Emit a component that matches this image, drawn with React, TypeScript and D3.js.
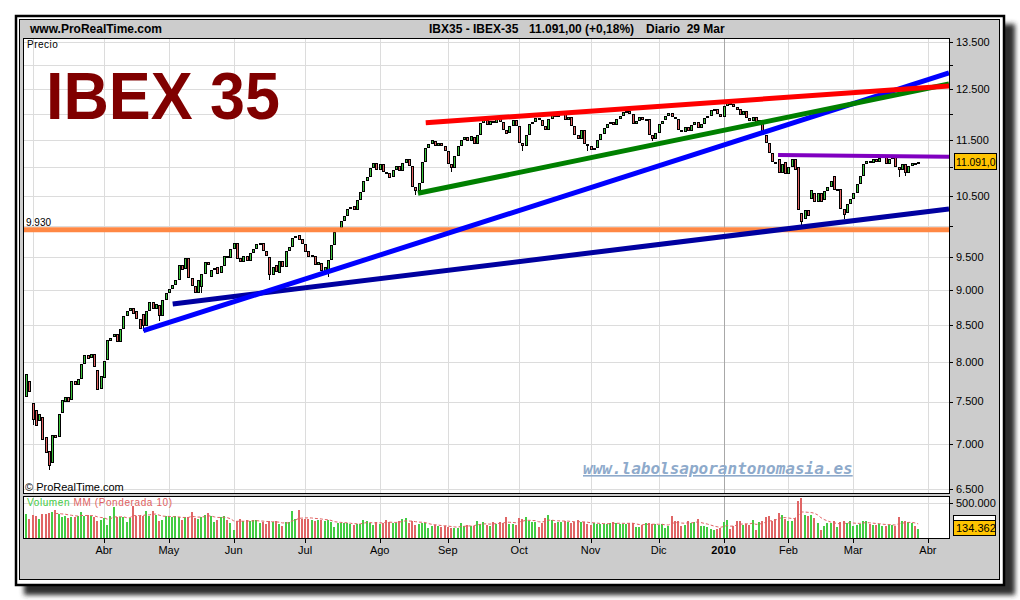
import React from 'react';
import * as d3 from 'd3';

// Trading-day index of the first candle (Feb 26 2009); index 0 = Mar 2 2009
const startIndex = -2;

const opens = [
  7560, 7760,
  7480, 7400, 7260, 7310, 7080, 6920, 6780, 7100, 7080, 7360, 7500, 7560, 7520, 7760, 7700, 7780, 7980, 8090, 8050, 8100, 7900, 7660,
  7800, 8030, 8280, 8330, 8380, 8260, 8450, 8620, 8700, 8740, 8690, 8580, 8650, 8480, 8700, 8830, 8720, 8780, 8620, 8860,
  8960, 9010, 9080, 9150, 9380, 9320, 9480, 9180, 9060, 8960, 9050, 9240, 9420, 9200, 9300, 9350, 9250, 9360, 9520, 9480,
  9620, 9720, 9480, 9420, 9520, 9440, 9560, 9620, 9700, 9720, 9600, 9500, 9230, 9380, 9260, 9430, 9340, 9600, 9660, 9800, 9850, 9780,
  9700, 9600, 9500, 9520, 9380, 9400, 9280, 9250, 9450, 9680, 9900, 9960, 10080, 10150, 10280, 10320, 10250, 10420, 10560, 10750, 10820, 10980, 11080,
  10950, 11050, 10920, 10900, 10820, 10950, 11020, 10930, 11080, 11150, 11020, 10650, 10580, 10720, 11100, 11350, 11420, 11480, 11380, 11450, 11380,
  11300, 11050, 10980, 11200, 11380, 11500, 11560, 11480, 11560, 11430, 11600, 11820, 11880, 11780, 11860, 11820, 11920, 11850, 11700, 11640, 11760, 11880,
  11760, 11450, 11380, 11600, 11800, 11850, 11920, 11880, 11760, 11700, 11900, 11980, 11950, 12020, 12050, 11880, 11950, 11760, 11600, 11520, 11700, 11420,
  11380, 11320, 11350, 11500, 11620, 11720, 11800, 11850, 11780, 11900, 11960, 12030, 12060, 12010, 11800, 11870, 11940, 11880, 11900, 11600, 11520,
  11640, 11800, 11880, 11960, 12020, 11940, 11900, 11700, 11650, 11740, 11680, 11780, 11850, 11720, 11800, 11920, 11970, 12080, 12100, 12000,
  11950, 12150, 12220, 12200, 12140, 12100, 11980, 12050, 11920, 11860, 11950, 11800, 11880, 11600, 11450, 11250, 11100, 11150, 10900, 11100,
  10880, 11000, 11150, 11000, 10200, 10100, 10250, 10450, 10550, 10400, 10550, 10420, 10580, 10650, 10850, 10600, 10620, 10280, 10200, 10350,
  10450, 10550, 10700, 10850, 11050, 11120, 11080, 11150, 11100, 11160, 11200, 11050, 11150, 11200, 11000, 10950, 11050, 10900, 11020, 11080, 11070,
];

const closes = [
  7850, 7620,
  7280, 7200, 7350, 7040, 6900, 6750, 7100, 7060, 7350, 7520, 7560, 7500, 7760, 7700, 7780, 7980, 8090, 8040, 8110, 7940, 7640, 7815,
  8010, 8300, 8320, 8380, 8260, 8450, 8620, 8700, 8740, 8650, 8580, 8450, 8480, 8700, 8830, 8720, 8800, 8620, 8860, 8960,
  9010, 9080, 9150, 9380, 9300, 9480, 9180, 9060, 8960, 9150, 9240, 9420, 9370, 9300, 9330, 9240, 9360, 9520, 9480, 9620,
  9720, 9460, 9420, 9520, 9440, 9560, 9620, 9700, 9720, 9600, 9520, 9230, 9350, 9270, 9430, 9340, 9600, 9660, 9800, 9830, 9760, 9700,
  9580, 9500, 9530, 9380, 9420, 9280, 9350, 9450, 9680, 9900, 9960, 10080, 10150, 10280, 10300, 10250, 10420, 10560, 10750, 10820, 10980, 11080, 10950,
  11050, 10920, 10880, 10800, 10950, 11020, 10930, 11080, 11150, 11020, 10650, 10580, 10720, 11100, 11350, 11420, 11500, 11380, 11450, 11380, 11300,
  11050, 10980, 11200, 11380, 11500, 11560, 11480, 11570, 11430, 11600, 11820, 11900, 11780, 11860, 11820, 11920, 11850, 11700, 11620, 11760, 11880, 11760,
  11450, 11380, 11600, 11800, 11850, 11920, 11880, 11760, 11700, 11900, 12000, 11950, 12020, 12050, 11880, 11950, 11760, 11600, 11520, 11700, 11420, 11380,
  11320, 11350, 11500, 11620, 11720, 11800, 11850, 11780, 11900, 11960, 12030, 12050, 12010, 11800, 11870, 11940, 11880, 11900, 11600, 11520, 11640,
  11800, 11860, 11960, 12020, 11940, 11900, 11700, 11650, 11740, 11680, 11780, 11850, 11720, 11800, 11920, 11970, 12080, 12100, 12000, 11940,
  12150, 12220, 12170, 12140, 12080, 11980, 12050, 11920, 11860, 11950, 11800, 11880, 11600, 11450, 11250, 11100, 11050, 10900, 11050, 10880,
  11000, 11150, 10950, 10250, 10050, 10250, 10150, 10600, 10400, 10550, 10400, 10580, 10650, 10750, 10600, 10620, 10280, 10180, 10350, 10450,
  10550, 10700, 10850, 11050, 11120, 11080, 11150, 11100, 11160, 11200, 11050, 11150, 11180, 11000, 10950, 11050, 10900, 11020, 11080, 11070, 11091,
];

// notable lower shadows: [trading-day index, low]
const lowWicks: [number, number][] = [
  [0, 7215], [5, 6705], [34, 8410], [39, 8550], [52, 8950], [73, 9150], [91, 9190],
  [118, 10520], [129, 10920], [151, 11300], [171, 11300], [191, 11480], [237, 10000],
  [250, 10100], [267, 10820], [269, 10850],
];

// daily volume, thousands of shares
const volumes = [
  348, 276, 324, 319, 276, 348, 348, 357, 367, 395, 348, 300, 319, 286, 300, 295, 310, 376, 319, 333,
  310, 295, 238, 252, 286, 190, 319, 438, 300, 300, 295, 224, 281, 452, 310, 319, 319, 381, 310, 381,
  333, 248, 262, 310, 310, 300, 310, 300, 262, 300, 295, 367, 286, 271, 300, 333, 357, 310, 233, 262,
  300, 319, 262, 214, 119, 238, 271, 248, 262, 248, 262, 262, 214, 224, 205, 238, 224, 238, 205, 176,
  224, 224, 381, 271, 395, 276, 276, 271, 262, 243, 262, 262, 243, 262, 224, 157, 214, 214, 214, 214,
  195, 190, 200, 200, 262, 248, 214, 190, 229, 205, 214, 262, 229, 214, 214, 248, 271, 286, 214, 238,
  190, 205, 214, 214, 143, 167, 181, 176, 157, 176, 157, 143, 143, 143, 214, 176, 190, 176, 176, 248,
  205, 224, 190, 176, 224, 205, 229, 214, 300, 205, 205, 190,
  286, 271, 300, 248, 233, 233, 157, 214, 286, 333, 262, 214, 229, 229, 238, 233, 214, 224, 252, 229,
  224, 205, 190, 214, 195, 200, 200, 200, 214, 233, 214, 205, 205, 205, 214, 214, 157, 157, 190, 214,
  214, 200, 200, 190, 200, 143, 176, 319, 248, 238, 167, 190, 238, 214, 229, 276, 176, 167, 157, 129,
  119, 129, 143, 224, 262, 129, 167, 238, 248, 190, 205, 181, 262, 110, 224, 248, 300, 319, 248, 271,
  357, 333, 271, 238, 238, 286, 533, 571, 333, 319, 333, 286, 214, 119, 176, 214, 214, 238, 157, 233,
  238, 214, 248, 176, 190, 205, 248, 238, 205, 190, 190, 195, 167, 176, 190, 190, 176, 300, 238, 238,
  229, 214, 167, 134.362,
];

const monthTicks = [
  { label: 'Abr', i: 22 }, { label: 'May', i: 42 }, { label: 'Jun', i: 62 }, { label: 'Jul', i: 84 },
  { label: 'Ago', i: 107 }, { label: 'Sep', i: 128 }, { label: 'Oct', i: 150 }, { label: 'Nov', i: 172 },
  { label: 'Dic', i: 193 }, { label: '2010', i: 213 }, { label: 'Feb', i: 233 }, { label: 'Mar', i: 253 },
  { label: 'Abr', i: 276 },
];
const firstMonthGrid = 0; // Mar 2009 (no label)

const priceGrid = [6500, 7000, 7500, 8000, 8500, 9000, 9500, 10000, 10500, 11000, 11500, 12000, 12500, 13000, 13500];
const priceLabels = [13500, 12500, 11500, 10500, 9500, 9000, 8500, 8000, 7500, 7000, 6500];

// trend lines: [index, price] endpoints
const trendLines = [
  { color: '#0000a0', w: 5, from: [43.2, 8797], to: [282.5, 10274] },
  { color: '#0000ff', w: 5, from: [34.15, 8420], to: [282.5, 12833] },
  { color: '#008000', w: 5, from: [118.8, 10541], to: [282.5, 12604] },
  { color: '#ff0000', w: 5, from: [121.2, 11830], to: [282.5, 12563] },
  { color: '#8000c0', w: 4, from: [229.8, 11222], to: [282.5, 11190] },
];
const supportLevel = 9930;

const es = d3.formatLocale({ decimal: ',', thousands: '.', grouping: [3], currency: ['', ''] });
const fmtInt = es.format(',d');

export default function App() {
  const L = 23, R = 949, PT = 38, PB = 493, VT = 496, VB = 538;
  const x = d3.scaleLinear().domain([-2.95, 282.5]).range([L, R]);
  const y = d3.scaleLog().domain([6458, 13588]).range([PB, PT]);
  const yv = d3.scaleLinear().domain([0, 500]).range([VB, 503]);

  const lowMap = new Map(lowWicks.map(([i, v]) => [i, v]));
  const n = Math.min(opens.length, closes.length);
  const candles = closes.slice(0, n).map((c, k) => {
    const i = startIndex + k;
    const o = opens[k];
    return { i, o, c, low: lowMap.get(i) ?? Math.min(o, c), up: c >= o };
  });

  const wma: [number, number][] = [];
  for (let k = 9; k < volumes.length; k++) {
    let s = 0;
    for (let j = 0; j < 10; j++) s += (10 - j) * volumes[k - j];
    wma.push([startIndex + k, s / 55]);
  }
  const maLine = d3.line<[number, number]>().x((d) => x(d[0])).y((d) => yv(d[1]));

  const green = '#3dc43d';
  const red = '#e06262';
  const vgreen = '#44cc44';
  const vred = '#e06666';
  const grid = '#dcdcdc';
  const font = 'Liberation Sans, Arial, sans-serif';
  const last = closes[closes.length - 1];
  const lastVol = volumes[volumes.length - 1];
  const lastY = y(last);

  const gridIdx = [firstMonthGrid, ...monthTicks.map((m) => m.i)];

  return (
    <svg width={1020} height={600} style={{ position: 'absolute', left: 0, top: 0, background: '#fff' }} fontFamily={font}>
      <defs>
        <filter id="sh" x="-5%" y="-5%" width="110%" height="110%">
          <feGaussianBlur stdDeviation="2.5" />
        </filter>
        <clipPath id="pc"><rect x={L} y={PT} width={R - L} height={PB - PT} /></clipPath>
        <clipPath id="vc"><rect x={L} y={VT} width={R - L} height={VB - VT} /></clipPath>
      </defs>
      {/* shadow + frame */}
      <rect x={24} y={24} width={991} height={571} fill="#2e2e2e" filter="url(#sh)" />
      <rect x={16} y={16} width={988} height={569} fill="#fff" stroke="#000" strokeWidth={2.5} />
      <rect x={19.5} y={19.5} width={980} height={560} fill="#cccccc" stroke="#000" strokeWidth={1} />

      {/* header */}
      <text x={30} y={33} fontSize={12} fontWeight="bold">www.ProRealTime.com</text>
      <text x={429} y={33} fontSize={12} fontWeight="bold">IBX35 - IBEX-35</text>
      <text x={529} y={33} fontSize={12} fontWeight="bold">11.091,00 (+0,18%)</text>
      <text x={646} y={33} fontSize={12} fontWeight="bold" style={{ whiteSpace: 'pre' }}>Diario  29 Mar</text>

      {/* price panel */}
      <rect x={L + 0.5} y={PT + 0.5} width={R - L} height={PB - PT} fill="#fff" />
      <g shapeRendering="crispEdges">
        {priceGrid.map((v) => (
          <line key={v} x1={L} x2={R} y1={Math.round(y(v)) + 0.5} y2={Math.round(y(v)) + 0.5} stroke={grid} />
        ))}
        {gridIdx.map((i, k) => (
          <line key={k} x1={Math.round(x(i)) + 0.5} x2={Math.round(x(i)) + 0.5} y1={PT} y2={PB}
            stroke={i === 213 ? '#a8a8a8' : grid} />
        ))}
      </g>
      <text x={27} y={48} fontSize={10} letterSpacing={0.5}>Precio</text>
      <text x={46} y={118.5} fontSize={66} fontWeight="bold" fill="#800000" textLength={234} lengthAdjust="spacingAndGlyphs">IBEX 35</text>
      <text x={583} y={474} fontSize={16} fontWeight="bold" fontStyle="italic"
        fontFamily="DejaVu Sans Mono, monospace" fill="#8eaacb" textDecoration="underline">www.labolsaporantonomasia.es</text>
      <text x={25} y={491} fontSize={11}>© ProRealTime.com</text>

      <g clipPath="url(#pc)">
        <g shapeRendering="crispEdges">
          {candles.map((d) => {
            const X = Math.round(x(d.i));
            const top = Math.round(y(Math.max(d.o, d.c)));
            const bot = Math.max(top + 2, Math.round(y(Math.min(d.o, d.c))));
            const lowY = Math.round(y(d.low));
            return (
              <g key={d.i}>
                {lowY > bot && <rect x={X} y={bot} width={1} height={lowY - bot} fill="#000" />}
                <rect x={X - 1} y={top} width={3} height={bot - top} fill="#000" />
                {bot - top > 2 && <rect x={X} y={top + 1} width={1} height={bot - top - 2} fill={d.up ? green : red} />}
              </g>
            );
          })}
        </g>
        <line x1={L} x2={R} y1={y(supportLevel)} y2={y(supportLevel)} stroke="#ff8844" strokeWidth={5} />
        {trendLines.map((t, k) => (
          <line key={k} x1={x(t.from[0])} y1={y(t.from[1])} x2={x(t.to[0])} y2={y(t.to[1])}
            stroke={t.color} strokeWidth={t.w} />
        ))}
      </g>
      <text x={26} y={y(supportLevel) - 4} fontSize={10}>{'9.930'}</text>
      <rect x={L + 0.5} y={PT + 0.5} width={R - L} height={PB - PT} fill="none" stroke="#000" shapeRendering="crispEdges" />

      {/* price axis */}
      <g shapeRendering="crispEdges">
        {priceGrid.map((v) => (
          <line key={v} x1={R} x2={R + 4} y1={Math.round(y(v)) + 0.5} y2={Math.round(y(v)) + 0.5} stroke="#000" />
        ))}
      </g>
      {priceLabels.map((v) => (
        <text key={v} x={956} y={y(v)} dy="0.36em" fontSize={11}>{fmtInt(v)}</text>
      ))}
      <rect x={954.5} y={lastY - 8.5} width={42} height={16} fill="#ffc400" stroke="#000" shapeRendering="crispEdges" />
      <text x={956} y={lastY} dy="0.36em" fontSize={11} textLength={39.5} lengthAdjust="spacingAndGlyphs">{es.format(',.1f')(last)}</text>

      {/* volume panel */}
      <rect x={L + 0.5} y={VT + 0.5} width={R - L} height={VB - VT} fill="#fff" />
      <g shapeRendering="crispEdges">
        <line x1={L} x2={R} y1={Math.round(yv(500)) + 0.5} y2={Math.round(yv(500)) + 0.5} stroke={grid} />
        {gridIdx.map((i, k) => (
          <line key={k} x1={Math.round(x(i)) + 0.5} x2={Math.round(x(i)) + 0.5} y1={VT} y2={VB}
            stroke={i === 213 ? '#a8a8a8' : grid} />
        ))}
      </g>
      <g clipPath="url(#vc)" shapeRendering="crispEdges">
        {volumes.map((v, k) => {
          const i = startIndex + k;
          const X = Math.round(x(i));
          const up = candles[k] ? candles[k].up : true;
          return <rect key={k} x={X - 1} y={Math.round(yv(v))} width={2} height={VB - Math.round(yv(v))}
            fill={up ? vgreen : vred} />;
        })}
      </g>
      <path d={maLine(wma) ?? ''} fill="none" stroke="#e06262" strokeWidth={1} strokeDasharray="3,2" clipPath="url(#vc)" />
      <text x={27} y={506} fontSize={10} letterSpacing={0.6}>
        <tspan fill="#44cc44">Volumen</tspan>
        <tspan fill="#e06262"> MM (Ponderada 10)</tspan>
      </text>
      <rect x={L + 0.5} y={VT + 0.5} width={R - L} height={VB - VT} fill="none" stroke="#000" shapeRendering="crispEdges" />
      <line x1={R} x2={R + 4} y1={Math.round(yv(500)) + 0.5} y2={Math.round(yv(500)) + 0.5} stroke="#000" shapeRendering="crispEdges" />
      <text x={956} y={yv(500)} dy="0.36em" fontSize={11}>{fmtInt(500000)}</text>
      <rect x={953.5} y={515.5} width={42} height={5} fill="#fff" stroke="#000" shapeRendering="crispEdges" />
      <rect x={953.5} y={520.5} width={42} height={15} fill="#ffc400" stroke="#000" shapeRendering="crispEdges" />
      <text x={956} y={528} dy="0.36em" fontSize={11}>{fmtInt(Math.round(lastVol * 1000))}</text>

      {/* date axis */}
      <g shapeRendering="crispEdges">
        {monthTicks.map((m, k) => (
          <line key={k} x1={Math.round(x(m.i)) + 0.5} x2={Math.round(x(m.i)) + 0.5} y1={VB} y2={VB + 5} stroke="#000" />
        ))}
      </g>
      {monthTicks.map((m, k) => (
        <text key={k} x={x(m.i)} y={554} fontSize={11} textAnchor="middle" fontWeight={m.label === '2010' ? 'bold' : 'normal'}>{m.label}</text>
      ))}
    </svg>
  );
}
